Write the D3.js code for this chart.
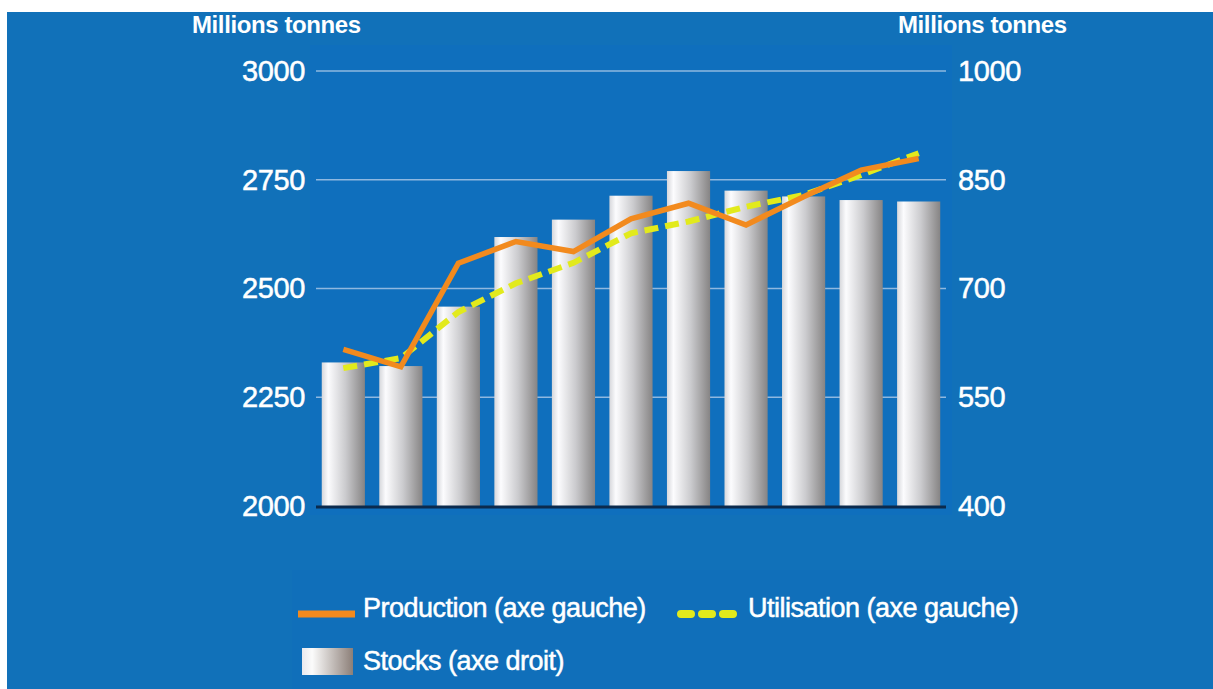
<!DOCTYPE html>
<meta charset="utf-8">
<script src="https://d3js.org/d3.v7.min.js"></script>
<style>
  html, body { margin: 0; padding: 0; background: #fff; }
  text { font-family: "Liberation Sans", Arial, sans-serif; fill: #fff; }
  .soft { stroke: #fff; stroke-width: 0.5px; paint-order: stroke; }
</style>
<div id="chart"></div>
<script>
// periods (not labelled on the original chart)
var periods = ["p1", "p2", "p3", "p4", "p5", "p6", "p7", "p8", "p9", "p10", "p11"];
// left axis, millions tonnes
var production = [2360, 2320, 2558, 2608, 2585, 2660, 2696, 2646, 2711, 2772, 2799];
var utilisation = [2317, 2340, 2446, 2512, 2559, 2627, 2654, 2688, 2715, 2761, 2811];
// right axis, millions tonnes
var stocks = [598, 593, 675, 771, 795, 828, 862, 835, 827, 822, 820];

var leftTicks = [2000, 2250, 2500, 2750, 3000];
var rightTicks = [400, 550, 700, 850, 1000];

var W = 1213, H = 689;
var plot = { left: 316, right: 946, top: 71, bottom: 506 };

var svg = d3.select("#chart").append("svg")
    .attr("width", W)
    .attr("height", H);

var defs = svg.append("defs");
var grad = defs.append("linearGradient")
    .attr("id", "barGrad")
    .attr("x1", "0%").attr("x2", "100%").attr("y1", "0%").attr("y2", "0%");
grad.append("stop").attr("offset", "0%").attr("stop-color", "#d6d7db");
grad.append("stop").attr("offset", "15%").attr("stop-color", "#fcfcfe");
grad.append("stop").attr("offset", "55%").attr("stop-color", "#cbcbce");
grad.append("stop").attr("offset", "100%").attr("stop-color", "#868484");

var legGrad = defs.append("linearGradient")
    .attr("id", "legGrad")
    .attr("x1", "0%").attr("x2", "100%").attr("y1", "0%").attr("y2", "0%");
legGrad.append("stop").attr("offset", "0%").attr("stop-color", "#e9e9ee");
legGrad.append("stop").attr("offset", "20%").attr("stop-color", "#fbfbfb");
legGrad.append("stop").attr("offset", "100%").attr("stop-color", "#8c7f78");

// background panel
svg.append("rect")
    .attr("x", 7).attr("y", 12)
    .attr("width", W - 7).attr("height", H - 12)
    .attr("fill", "#1171b9");

// slightly different plot area and legend area
svg.append("rect")
    .attr("x", 310).attr("y", 45)
    .attr("width", 642).attr("height", 470)
    .attr("fill", "#0f6fbd");
svg.append("rect")
    .attr("x", 292).attr("y", 570)
    .attr("width", 728).attr("height", 119)
    .attr("fill", "#106fba");

// scales
var x = d3.scaleBand()
    .domain(periods)
    .range([plot.left, plot.right])
    .paddingInner(0.25)
    .paddingOuter(0.1);
var yL = d3.scaleLinear().domain([2000, 3000]).range([plot.bottom, plot.top]);
var yR = d3.scaleLinear().domain([400, 1000]).range([plot.bottom, plot.top]);

// gridlines
svg.append("g")
    .selectAll("line")
    .data(leftTicks.slice(1))
    .join("line")
    .attr("x1", plot.left).attr("x2", plot.right)
    .attr("y1", function(d) { return yL(d); })
    .attr("y2", function(d) { return yL(d); })
    .attr("stroke", "#8fb8e0")
    .attr("stroke-width", 1.5);

// left axis
var axL = svg.append("g")
    .attr("transform", "translate(" + plot.left + ",0)")
    .call(d3.axisLeft(yL).tickValues(leftTicks).tickSize(0).tickPadding(11).tickFormat(d3.format("d")));
axL.select(".domain").remove();
axL.selectAll("text")
    .attr("fill", "#fff")
    .attr("class", "soft")
    .style("font-size", "29px")
    .style("letter-spacing", "-0.4px");

// right axis
var axR = svg.append("g")
    .attr("transform", "translate(" + plot.right + ",0)")
    .call(d3.axisRight(yR).tickValues(rightTicks).tickSize(0).tickPadding(12).tickFormat(d3.format("d")));
axR.select(".domain").remove();
axR.selectAll("text")
    .attr("fill", "#fff")
    .attr("class", "soft")
    .style("font-size", "29px")
    .style("letter-spacing", "-0.4px");

// axis titles
svg.append("text")
    .attr("x", 192).attr("y", 33)
    .style("font-size", "24px").style("font-weight", "bold").style("letter-spacing", "-0.4px")
    .text("Millions tonnes");
svg.append("text")
    .attr("x", 898).attr("y", 33)
    .style("font-size", "24px").style("font-weight", "bold").style("letter-spacing", "-0.4px")
    .text("Millions tonnes");

// stocks bars
svg.append("g")
    .selectAll("rect")
    .data(stocks)
    .join("rect")
    .attr("x", function(d, i) { return x(periods[i]); })
    .attr("y", function(d) { return yR(d); })
    .attr("width", x.bandwidth())
    .attr("height", function(d) { return yR(400) - yR(d); })
    .attr("fill", "url(#barGrad)");

// baseline
svg.append("line")
    .attr("x1", plot.left).attr("x2", plot.right)
    .attr("y1", plot.bottom + 1).attr("y2", plot.bottom + 1)
    .attr("stroke", "#0b2a4d")
    .attr("stroke-width", 3);

function cx(i) { return x(periods[i]) + x.bandwidth() / 2; }

var line = d3.line()
    .x(function(d, i) { return cx(i); })
    .y(function(d) { return yL(d); });

svg.append("path")
    .datum(utilisation)
    .attr("d", line)
    .attr("fill", "none")
    .attr("stroke", "#e2ea1c")
    .attr("stroke-width", 6)
    .attr("stroke-dasharray", "14,7");

svg.append("path")
    .datum(production)
    .attr("d", line)
    .attr("fill", "none")
    .attr("stroke", "#f28a1e")
    .attr("stroke-width", 5.5)
    .attr("stroke-linejoin", "miter");

// legend
var leg = svg.append("g");
leg.append("line")
    .attr("x1", 298).attr("x2", 355).attr("y1", 614).attr("y2", 614)
    .attr("stroke", "#f28a1e").attr("stroke-width", 7);
leg.append("text")
    .attr("x", 363).attr("y", 617)
    .attr("class", "soft")
    .style("font-size", "27px").style("letter-spacing", "-0.5px")
    .text("Production (axe gauche)");

leg.append("line")
    .attr("x1", 681).attr("x2", 733).attr("y1", 614).attr("y2", 614)
    .attr("stroke", "#e2ea1c").attr("stroke-width", 8)
    .attr("stroke-linecap", "round")
    .attr("stroke-dasharray", "10,11");
leg.append("text")
    .attr("x", 748).attr("y", 617)
    .attr("class", "soft")
    .style("font-size", "27px").style("letter-spacing", "-0.5px")
    .text("Utilisation (axe gauche)");

leg.append("rect")
    .attr("x", 302).attr("y", 648)
    .attr("width", 51).attr("height", 27)
    .attr("fill", "url(#legGrad)");
leg.append("text")
    .attr("x", 363).attr("y", 670)
    .attr("class", "soft")
    .style("font-size", "27px").style("letter-spacing", "-0.5px")
    .text("Stocks (axe droit)");
</script>
